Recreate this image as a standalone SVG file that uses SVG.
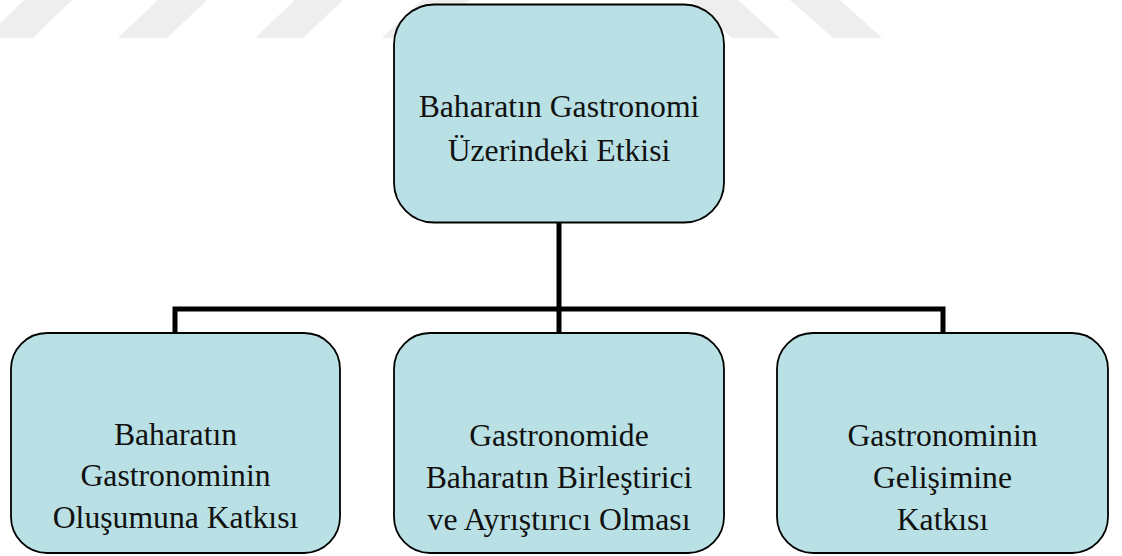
<svg xmlns="http://www.w3.org/2000/svg" width="1122" height="556" viewBox="0 0 1122 556">
<style>
.box{fill:#b9e0e4;stroke:#000;stroke-width:1.8}
.lbl{font-family:'Liberation Serif','Times New Roman','DejaVu Serif',serif;font-size:31.7px;fill:#111;text-anchor:middle}
.wm{fill:#eeeeee}
.conn{fill:none;stroke:#000;stroke-width:5;stroke-linejoin:miter;stroke-linecap:butt}
</style>
<rect width="1122" height="556" fill="#fff"/>
<g id="watermark">
<polygon class="wm" points="-15,38 33,38 72,0 24,0"/>
<polygon class="wm" points="118,38 167,38 207,0 158,0"/>
<polygon class="wm" points="255,38 303,38 343,0 295,0"/>
<polygon class="wm" points="382,38 430,38 470,0 422,0"/>
<polygon class="wm" points="790,0 840,0 882,38 833,38"/>
<polygon class="wm" points="690,0 738,0 780,38 732,38"/>
</g>
<g id="connectors">
<polyline class="conn" points="559,222 559,309"/>
<polyline class="conn" points="175,333 175,309 943,309 943,333"/>
<polyline class="conn" points="559,309 559,333"/>
</g>
<g id="root">
<rect class="box" x="394" y="4.5" width="330" height="218" rx="40" ry="40"/>
<text class="lbl" x="559" y="117">Baharatın Gastronomi</text>
<text class="lbl" x="559" y="160.5">Üzerindeki Etkisi</text>
</g>
<g id="child1">
<rect class="box" x="11" y="333" width="329" height="220" rx="36" ry="36"/>
<text class="lbl" x="175.5" y="444.5">Baharatın</text>
<text class="lbl" x="175.5" y="486">Gastronominin</text>
<text class="lbl" x="175.5" y="527.5">Oluşumuna Katkısı</text>
</g>
<g id="child2">
<rect class="box" x="394" y="333" width="330" height="220" rx="36" ry="36"/>
<text class="lbl" x="559" y="446">Gastronomide</text>
<text class="lbl" x="559" y="488">Baharatın Birleştirici</text>
<text class="lbl" x="559" y="530">ve Ayrıştırıcı Olması</text>
</g>
<g id="child3">
<rect class="box" x="777" y="333" width="331" height="220" rx="36" ry="36"/>
<text class="lbl" x="942.5" y="446">Gastronominin</text>
<text class="lbl" x="942.5" y="488">Gelişimine</text>
<text class="lbl" x="942.5" y="530">Katkısı</text>
</g>
</svg>
